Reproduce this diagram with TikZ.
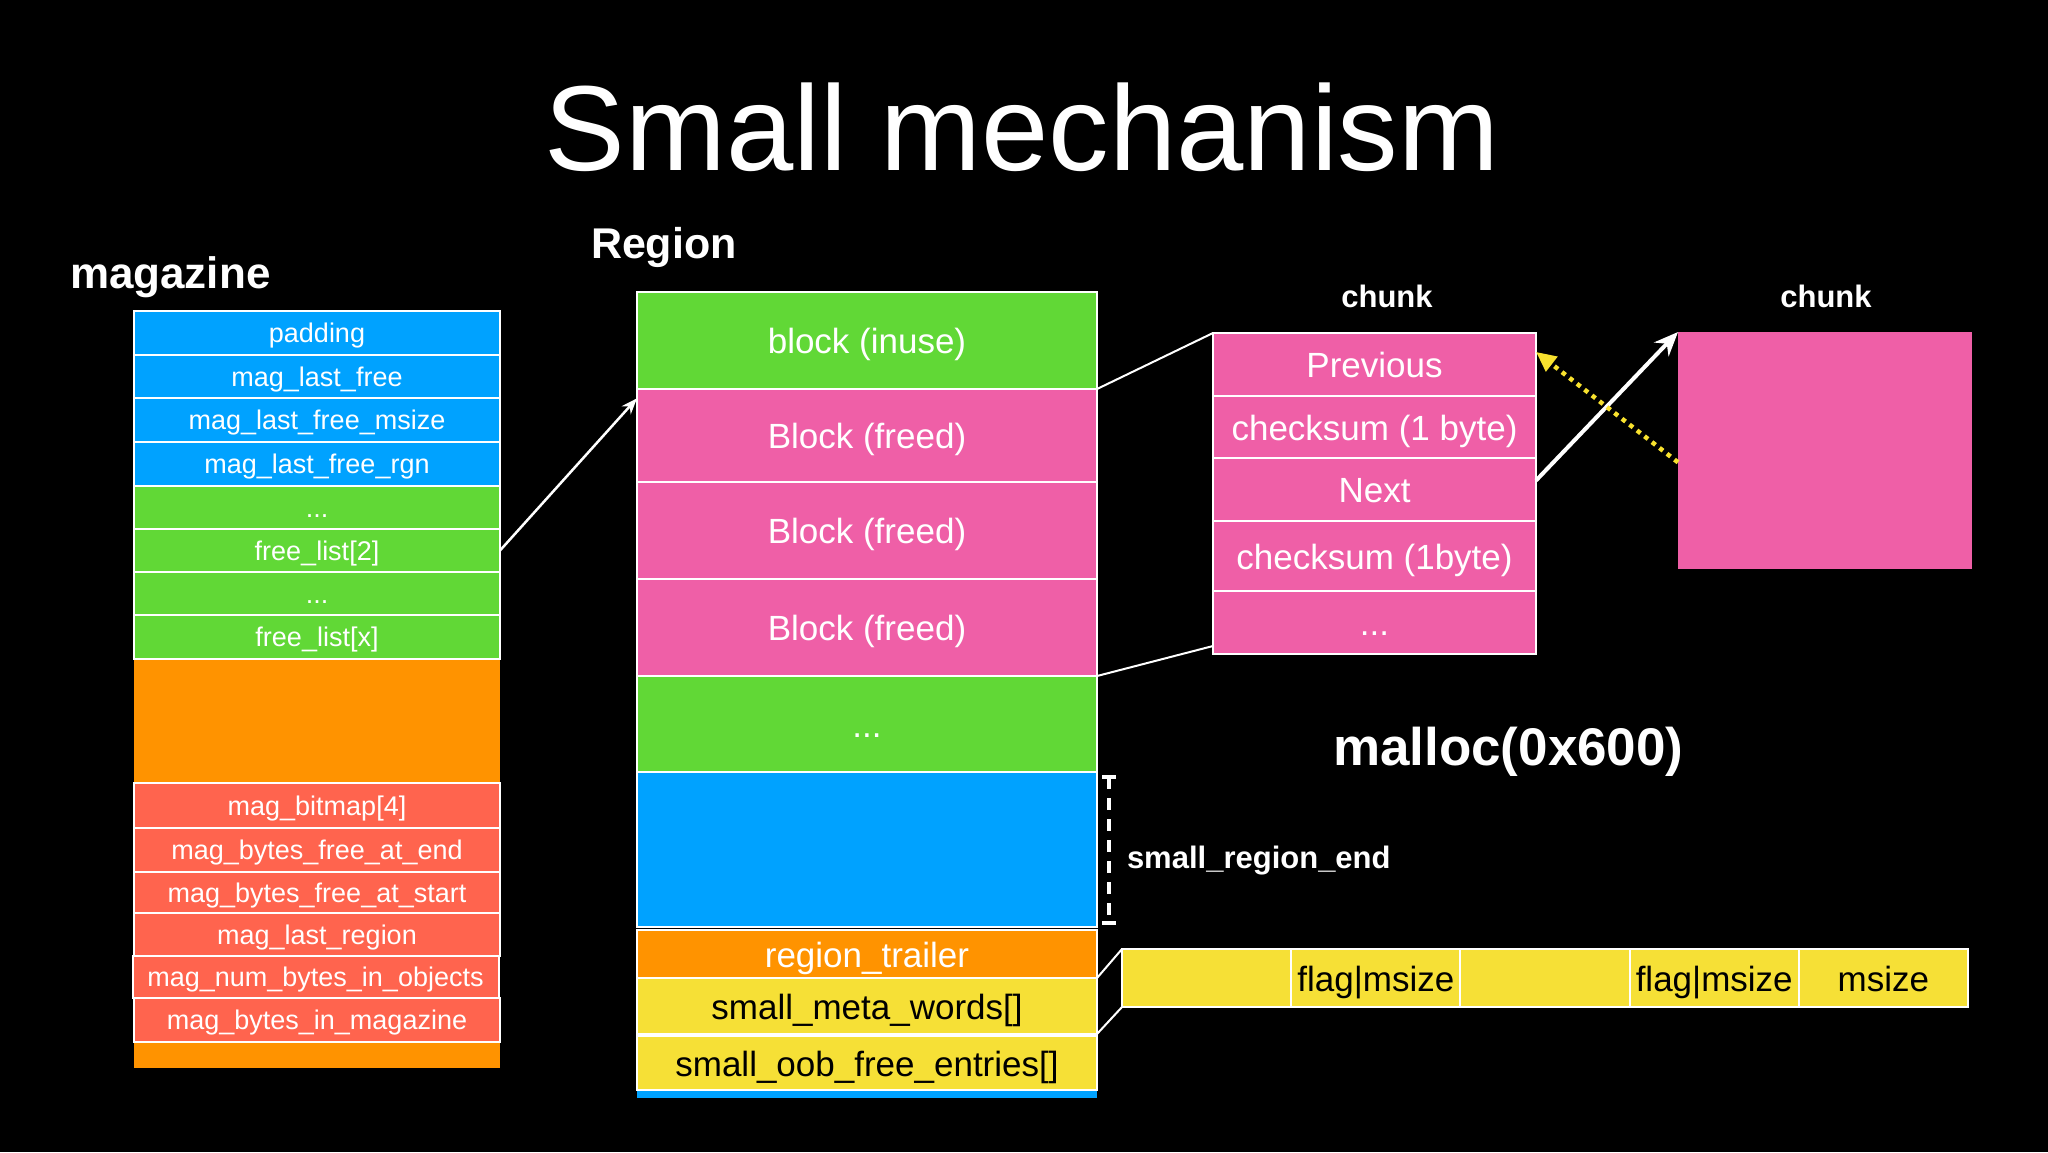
\documentclass[tikz,border=0pt]{standalone}
\usepackage{fontspec}
\setmainfont{Liberation Sans}
\usetikzlibrary{arrows.meta,calc}
\definecolor{kblue}{HTML}{00A2FF}
\definecolor{kgreen}{HTML}{61D836}
\definecolor{korange}{HTML}{FF9300}
\definecolor{kred}{HTML}{FF644E}
\definecolor{kpink}{HTML}{EF5FA7}
\definecolor{kyellow}{HTML}{F6E036}
\definecolor{kyellowline}{HTML}{F8E12E}
\begin{document}
\begin{tikzpicture}[x=1pt,y=-1pt,
  cell/.style={draw=white, line width=2pt, inner sep=0pt, outer sep=0pt, text=white, align=center},
  magcell/.style={cell, minimum width=366pt, font=\fontsize{27}{30}\selectfont, text height=25pt, text depth=5.3pt},
  regcell/.style={cell, minimum width=460pt, font=\fontsize{35}{40}\selectfont, text height=33pt, text depth=6.5pt},
  chkcell/.style={cell, minimum width=323pt, font=\fontsize{35}{40}\selectfont, text height=33pt, text depth=6.5pt},
  bitcell/.style={cell, minimum width=169.2pt, minimum height=58pt, fill=kyellow, text=black, font=\fontsize{35}{40}\selectfont, text height=33pt, text depth=6.5pt},
  lbl/.style={text=white, inner sep=0pt, outer sep=0pt},
  thinline/.style={draw=white, line width=2pt},
]
\fill[black] (0,0) rectangle (2048,1152);
\useasboundingbox (0,0) rectangle (2048,1152);

% titles and labels
\node[lbl, font=\fontsize{121}{130}\selectfont, anchor=base] (title) at (1022,170) {Small mechanism};
\node[lbl, font=\bfseries\fontsize{44}{50}\selectfont, anchor=base west] (maglabel) at (70,288) {magazine};
\node[lbl, font=\bfseries\fontsize{43}{50}\selectfont, anchor=base west] (reglabel) at (591,258) {Region};
\node[lbl, font=\bfseries\fontsize{31}{36}\selectfont, anchor=base] (chunkA) at (1387,307) {chunk};
\node[lbl, font=\bfseries\fontsize{31}{36}\selectfont, anchor=base] (chunkB) at (1826,307) {chunk};
\node[lbl, font=\bfseries\fontsize{53}{60}\selectfont, anchor=base west] (malloc) at (1333,765) {malloc(0x600)};
\node[lbl, font=\bfseries\fontsize{31}{36}\selectfont, anchor=base west] (sre) at (1127,868) {small\_region\_end};

% magazine
\fill[korange] (134,659) rectangle (500,1068);
\node[magcell, fill=kblue, minimum height=44pt] (pad) at (317,333) {padding};
\node[magcell, fill=kblue, minimum height=43pt] (mlf) at (317,376.5) {mag\_last\_free};
\node[magcell, fill=kblue, minimum height=44pt] (mlfm) at (317,420) {mag\_last\_free\_msize};
\node[magcell, fill=kblue, minimum height=44pt] (mlfr) at (317,464) {mag\_last\_free\_rgn};
\node[magcell, fill=kgreen, minimum height=43pt] (md1) at (317,507.5) {...};
\node[magcell, fill=kgreen, minimum height=43pt] (fl2) at (317,550.5) {free\_list[2]};
\node[magcell, fill=kgreen, minimum height=43pt] (md2) at (317,593.5) {...};
\node[magcell, fill=kgreen, minimum height=44pt] (flx) at (317,637) {free\_list[x]};
\node[magcell, fill=kred, minimum height=45pt] (mbm) at (317,805.5) {mag\_bitmap[4]};
\node[magcell, fill=kred, minimum height=44pt] (mbfe) at (317,850) {mag\_bytes\_free\_at\_end};
\node[magcell, fill=kred, minimum height=41pt] (mbfs) at (317,892.5) {mag\_bytes\_free\_at\_start};
\node[magcell, fill=kred, minimum height=43pt] (mlr) at (317,934.5) {mag\_last\_region};
\node[magcell, fill=kred, minimum height=42pt] (mnb) at (315.5,977) {mag\_num\_bytes\_in\_objects};
\node[magcell, fill=kred, minimum height=44pt] (mbim) at (317,1020) {mag\_bytes\_in\_magazine};

% region
\node[regcell, fill=kgreen, minimum height=97pt] (inuse) at (867,340.5) {block (inuse)};
\node[regcell, fill=kpink, minimum height=93pt] (bf1) at (867,435.5) {Block (freed)};
\node[regcell, fill=kpink, minimum height=97pt] (bf2) at (867,530.5) {Block (freed)};
\node[regcell, fill=kpink, minimum height=97pt] (bf3) at (867,627.5) {Block (freed)};
\node[regcell, fill=kgreen, minimum height=96pt] (rdots) at (867,724) {...};
\node[regcell, fill=kblue, minimum height=155pt] (rblue) at (867,849.5) {};
\node[regcell, fill=korange, minimum height=48pt] (trailer) at (867,954) {};
\begin{scope}
\clip (637,930) rectangle (1097,974);
\node[lbl, font=\fontsize{35}{40}\selectfont, anchor=base] (trailertext) at (867,967) {region\_trailer};
\end{scope}
\fill[kblue] (637,1088) rectangle (1097,1098);
\node[regcell, fill=kyellow, text=black, minimum height=56pt] (meta) at (867,1006) {small\_meta\_words[]};
\node[regcell, fill=kyellow, text=black, minimum height=54pt] (oob) at (867,1063) {small\_oob\_free\_entries[]};

% small_region_end bracket
\coordinate (bt) at (1109,777);
\coordinate (bb) at (1109,923);
\draw[white, line width=3.5pt, dash pattern=on 12pt off 9pt] (bt) -- (bb);
\draw[white, line width=3.5pt] ($(bt)+(-7,0)$) -- ($(bt)+(7,0)$);
\draw[white, line width=3.5pt] ($(bb)+(-7,0)$) -- ($(bb)+(7,0)$);

% chunk
\node[chkcell, fill=kpink, minimum height=63pt] (prev) at (1374.5,364.5) {Previous};
\node[chkcell, fill=kpink, minimum height=62pt] (cks1) at (1374.5,427) {checksum (1 byte)};
\node[chkcell, fill=kpink, minimum height=63pt] (next) at (1374.5,489.5) {Next};
\node[chkcell, fill=kpink, minimum height=70pt] (cks2) at (1374.5,556) {checksum (1byte)};
\node[chkcell, fill=kpink, minimum height=63pt] (cdots) at (1374.5,622.5) {...};
\node[fill=kpink, minimum width=294pt, minimum height=237pt, inner sep=0pt, outer sep=0pt] (rchunk) at (1825,450.5) {};

% meta words bar
\node[bitcell] (b1) at (1206.6,978) {};
\node[bitcell] (b2) at (1375.8,978) {flag\textbar msize};
\node[bitcell] (b3) at (1545,978) {};
\node[bitcell] (b4) at (1714.2,978) {flag\textbar msize};
\node[bitcell] (b5) at (1883.4,978) {msize};

% connectors
\draw[white, line width=2.5pt, -{Stealth[length=16pt,width=12pt]}] (fl2.east) -- ($(bf1.north west)!0.1!(bf1.south west)$);
\draw[thinline] (bf1.north east) -- (prev.north west);
\draw[thinline] (bf3.south east) -- ($(cdots.south west)+(0,-8)$);
\draw[white, line width=4pt, -{Stealth[length=24pt,width=20pt]}] ($(next.east)+(0,-9)$) -- (rchunk.north west);
\draw[kyellowline, line width=4.5pt, dash pattern=on 4.5pt off 5pt, -{Triangle[length=20pt,width=18pt]}] ($(rchunk.north west)!0.55!(rchunk.south west)$) -- ($(prev.north east)!0.3!(prev.south east)$);
\draw[thinline] (meta.north east) -- (b1.north west);
\draw[thinline] (meta.south east) -- (b1.south west);
\end{tikzpicture}
\end{document}
